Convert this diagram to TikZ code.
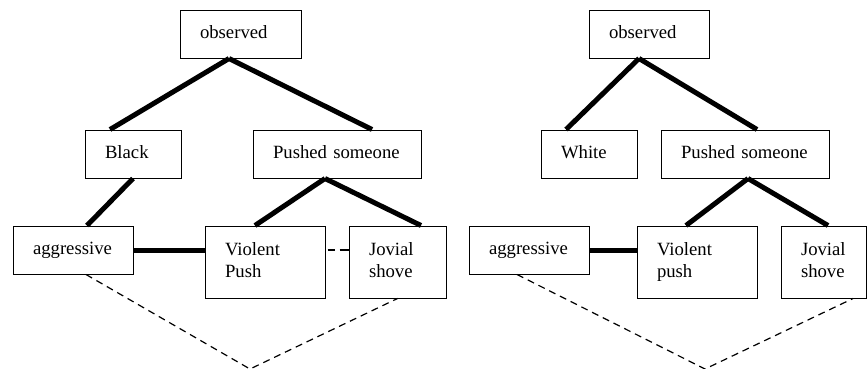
\documentclass[tikz,border=0pt]{standalone}
\usepackage{fontspec}
\setmainfont{Liberation Serif}
\begin{document}
\begin{tikzpicture}[x=1pt,y=-1pt,
  bx/.style={draw, line width=1pt, inner xsep=20pt, inner ysep=0pt, align=left,
    font=\fontsize{18.7pt}{22pt}\selectfont, minimum height=48pt},
  one/.style={text height=13pt, text depth=4pt},
  two/.style={text height=13pt, text depth=26pt, minimum height=72pt},
  thickline/.style={line width=5pt},
  dashline/.style={line width=1.2pt, dash pattern=on 7pt off 5pt}]
\useasboundingbox (0,0) rectangle (867,368);

% left diagram
\node[bx,one,text width=81pt] (Lobs) at (240.5,34) {observed};
\node[bx,one,text width=56pt] (Lblack) at (133,154) {Black};
\node[bx,one,text width=128pt] (Lpush) at (337,154) {Pushed someone};
\node[bx,one,text width=80pt] (Lagg) at (73,250) {aggressive};
\node[bx,two,text width=80pt] (Lviol) at (265,262) {Violent\\Push};
\node[bx,two,text width=57pt] (Ljov) at (397.5,262) {Jovial\\shove};
\coordinate (Lapex) at (250,369);

\draw[thickline] ([xshift=-11.5pt]Lobs.south) -- ([xshift=-23pt]Lblack.north);
\draw[thickline] ([xshift=-11.5pt]Lobs.south) -- ([xshift=35pt]Lpush.north);
\draw[thickline] (Lblack.south) -- ([xshift=14pt]Lagg.north);
\draw[thickline] ([xshift=-12pt]Lpush.south) -- ([xshift=-10pt]Lviol.north);
\draw[thickline] ([xshift=-12pt]Lpush.south) -- ([xshift=23.5pt]Ljov.north);
\draw[thickline] (Lagg.east) -- (Lagg.east -| Lviol.west);
\draw[dashline, dash pattern=on 7pt off 5pt on 10pt] ([xshift=2pt]Lagg.east -| Lviol.east) -- (Lagg.east -| Ljov.west);
\draw[dashline] ([xshift=13pt]Lagg.south) -- (Lapex) -- (Ljov.south);

% right diagram
\node[bx,one,text width=80pt] (Robs) at (649,34) {observed};
\node[bx,one,text width=56pt] (Rwhite) at (589,154) {White};
\node[bx,one,text width=128pt] (Rpush) at (745,154) {Pushed someone};
\node[bx,one,text width=80pt] (Ragg) at (529,250) {aggressive};
\node[bx,two,text width=80pt] (Rviol) at (697,262) {Violent\\push};
\node[bx,two,text width=45pt] (Rjov) at (823.5,262) {Jovial\\shove};
\coordinate (Rapex) at (705,369);

\draw[thickline] ([xshift=-10pt]Robs.south) -- ([xshift=-23pt]Rwhite.north);
\draw[thickline] ([xshift=-10pt]Robs.south) -- ([xshift=12pt]Rpush.north);
\draw[thickline] ([xshift=3pt]Rpush.south) -- ([xshift=-11pt]Rviol.north);
\draw[thickline] ([xshift=3pt]Rpush.south) -- ([xshift=4.5pt]Rjov.north);
\draw[thickline] (Ragg.east) -- (Ragg.east -| Rviol.west);
\draw[dashline] ([xshift=-12pt]Ragg.south) -- (Rapex) -- ([xshift=29.5pt]Rjov.south);
\end{tikzpicture}
\end{document}
